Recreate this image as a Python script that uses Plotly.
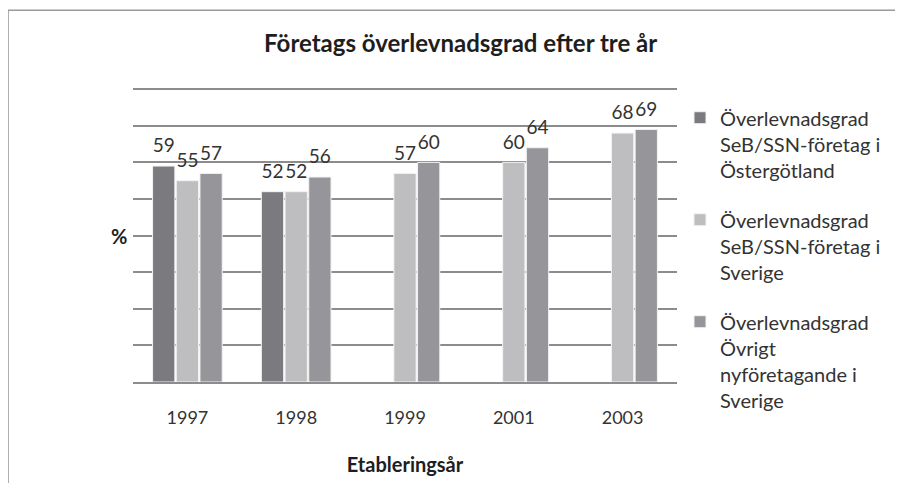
import plotly.graph_objects as go

years = ["1997", "1998", "1999", "2001", "2003"]
names = [
    "Överlevnadsgrad<br>SeB/SSN-företag i<br>Östergötland",
    "Överlevnadsgrad<br>SeB/SSN-företag i<br>Sverige",
    "Överlevnadsgrad<br>Övrigt<br>nyföretagande i<br>Sverige",
]
ostergotland = [59, 52, None, None, None]
sverige_seb = [55, 52, 57, 60, 68]
ovrigt = [57, 56, 60, 64, 69]
series = [ostergotland, sverige_seb, ovrigt]
colors = ["#7b7b7f", "#bebec0", "#95959a"]

FONT = "Lato"
TXT = "#333333"
DARK = "#1e1e1e"

fig = go.Figure()
for i, (nm, vals, col) in enumerate(zip(names, series, colors)):
    fig.add_trace(go.Bar(
        x=years, y=vals, name=nm, legendgroup=f"g{i}",
        marker=dict(color=col, line=dict(color="#f2f2f2", width=1)),
        hoverinfo="skip",
    ))
for i, vals in enumerate(series):
    fig.add_trace(go.Scatter(
        x=years, y=vals, mode="markers+text", showlegend=False,
        legendgroup=f"g{i}",
        text=[("" if v is None else str(v)) for v in vals],
        textposition="top center",
        textfont=dict(family=FONT, size=19, color=TXT),
        marker=dict(size=13, opacity=0),
        hoverinfo="skip", cliponaxis=False,
    ))

fig.update_layout(
    width=895, height=475,
    paper_bgcolor="white", plot_bgcolor="white",
    margin=dict(l=125, r=226, t=79, b=101, autoexpand=False),
    barmode="group", bargap=0.347, bargroupgap=0.06,
    scattermode="group", scattergap=0.347,
    font=dict(family=FONT, color=TXT, size=18),
    title=dict(text="<b>Företags överlevnadsgrad efter tre år</b>",
               x=0.5058, xanchor="center", y=0.926, yanchor="middle",
               font=dict(family=FONT, size=24, color=DARK)),
    showlegend=True,
    legend=dict(x=1.0055, xanchor="left", y=0.962, yanchor="top",
                traceorder="grouped", tracegroupgap=21, valign="top",
                maxheight=440,
                font=dict(family=FONT, size=20, color=TXT),
                itemwidth=30, bgcolor="rgba(0,0,0,0)"),
    xaxis=dict(type="category", showgrid=False, showline=True,
               linecolor="#8c8c8c", linewidth=1.5,
               ticks="outside", ticklen=19, tickcolor="rgba(0,0,0,0)",
               tickfont=dict(family=FONT, size=18, color=TXT),
               title=dict(text="<b>Etableringsår</b>", standoff=31,
                          font=dict(family=FONT, size=20, color=DARK))),
    yaxis=dict(range=[0, 80.6], dtick=10, showticklabels=False,
               showgrid=True, gridcolor="#8c8c8c", gridwidth=1.5,
               zeroline=False, fixedrange=True),
    annotations=[dict(text="<b>%</b>", xref="paper", yref="y",
                      x=-0.026, y=40, xanchor="center", yanchor="middle",
                      showarrow=False,
                      font=dict(family=FONT, size=20, color=DARK))],
    shapes=[dict(type="rect", xref="paper", yref="paper",
                 x0=-0.2297, x1=1.45, y0=-0.45, y1=1.26,
                 line=dict(color="#9a9a9a", width=1.5), layer="below")],
)

fig.write_html("out.html")
